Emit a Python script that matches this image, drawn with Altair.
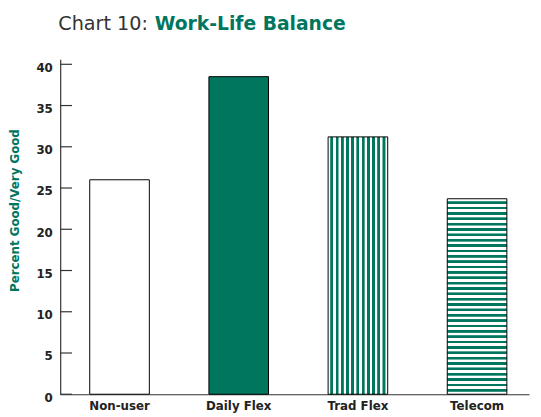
import altair as alt
import pandas as pd

categories = ["Non-user", "Daily Flex", "Trad Flex", "Telecom"]
values = [26.0, 38.5, 31.2, 23.7]
y_ticks = [0, 5, 10, 15, 20, 25, 30, 35, 40]

GREEN = "#00765E"
LIGHT = "#86c4b6"
AXIS = "#333333"
FONT = "DejaVu Sans"

df = pd.DataFrame({"category": categories, "value": values})
ticks_df = pd.DataFrame({"tick": y_ticks})


def stripes(n, gap, band, horizontal):
    total = (n + 1) * gap + n * band
    stops = [{"offset": 0, "color": "white"}]
    pos = gap
    e = 0.35
    for _ in range(n):
        a = pos / total
        a2 = (pos + e) / total
        b1 = (pos + band - e) / total
        b = (pos + band) / total
        stops += [
            {"offset": a, "color": "white"},
            {"offset": a, "color": LIGHT},
            {"offset": a2, "color": GREEN},
            {"offset": b1, "color": GREEN},
            {"offset": b, "color": LIGHT},
            {"offset": b, "color": "white"},
        ]
        pos += band + gap
    stops.append({"offset": 1, "color": "white"})
    if horizontal:
        return {"gradient": "linear", "x1": 0, "y1": 0, "x2": 1, "y2": 0, "stops": stops}
    return {"gradient": "linear", "x1": 0, "y1": 0, "x2": 0, "y2": 1, "stops": stops}


fills = {
    "Non-user": "white",
    "Daily Flex": GREEN,
    "Trad Flex": stripes(11, 2.2, 3.05, True),
    "Telecom": stripes(36, 2.6, 2.9, False),
}

x_enc = alt.X(
    "category:N",
    sort=categories,
    scale=alt.Scale(paddingInner=0.5, paddingOuter=0.217, align=0.571),
    axis=alt.Axis(
        title=None,
        labelAngle=0,
        ticks=False,
        labelFont=FONT,
        labelFontWeight="bold",
        labelFontSize=12,
        labelColor="#222222",
        labelPadding=7,
        domainColor=AXIS,
        domainWidth=1.2,
    ),
)
y_scale = alt.Scale(domain=[0, 40.6], nice=False)
y_enc = alt.Y(
    "value:Q",
    scale=y_scale,
    axis=alt.Axis(
        values=y_ticks,
        tickSize=0,
        grid=False,
        labelFont=FONT,
        labelFontWeight="bold",
        labelFontSize=12,
        labelColor="#222222",
        labelPadding=8,
        labelOffset=3,
        domainColor=AXIS,
        domainWidth=1.2,
        title="Percent Good/Very Good",
        titleFont=FONT,
        titleFontSize=12,
        titleFontWeight="bold",
        titleColor=GREEN,
        titleX=-42,
        titleY=153,
        titleAlign="center",
        titleBaseline="alphabetic",
    ),
)

layers = []
for cat in categories:
    layers.append(
        alt.Chart(df)
        .transform_filter(alt.datum.category == cat)
        .mark_bar(fill=fills[cat], stroke="black", strokeWidth=1)
        .encode(x=x_enc, y=y_enc)
    )

tick_marks = (
    alt.Chart(ticks_df)
    .mark_rule(color=AXIS, strokeWidth=1.2)
    .encode(y=alt.Y("tick:Q", scale=y_scale), x=alt.value(0), x2=alt.value(12))
)

title_a = (
    alt.Chart(pd.DataFrame({"t": ["Chart 10: "]}))
    .mark_text(align="left", baseline="alphabetic", font=FONT, fontSize=19.5, color="#333333")
    .encode(text="t:N", x=alt.value(-2), y=alt.value(-30))
)
title_b = (
    alt.Chart(pd.DataFrame({"t": ["Work-Life Balance"]}))
    .mark_text(align="left", baseline="alphabetic", font=FONT, fontSize=19, fontWeight="bold", color=GREEN)
    .encode(text="t:N", x=alt.value(96), y=alt.value(-30))
)

chart = (
    alt.layer(*layers, tick_marks, title_a, title_b)
    .properties(
        width=476,
        height=340,
        autosize=alt.AutoSizeParams(type="none"),
        padding={"left": 53, "top": 49, "right": 4, "bottom": 22},
    )
    .configure_view(stroke=None)
)

chart.save("out.html", embed_options={"renderer": "svg", "actions": False})
